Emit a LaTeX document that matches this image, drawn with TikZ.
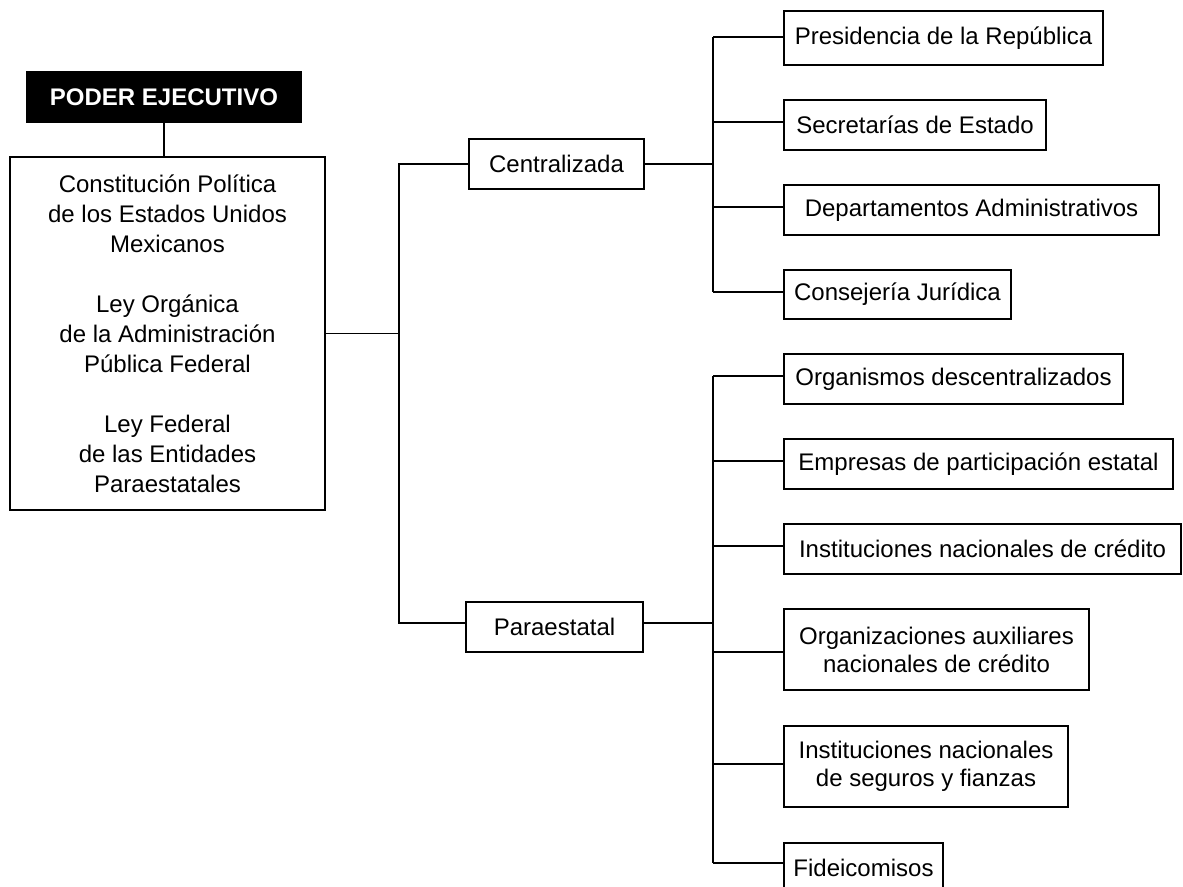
\documentclass[tikz,border=0pt]{standalone}
\usepackage{fontspec}
\setmainfont{Liberation Sans}
\begin{document}
\begin{tikzpicture}[x=1pt, y=-1pt, line width=1.6pt,
  box/.style={draw, rectangle, inner sep=0pt, align=center,
    font=\fontsize{24}{28}\selectfont},
  head/.style={box, fill=black, text=white,
    font=\fontsize{24}{28}\selectfont\bfseries},
  link/.style={draw, line width=1.6pt}
]
\useasboundingbox (0,0) rectangle (1183,886);

% header and legal framework
\node[head, minimum width=274pt, minimum height=50pt] (poder) at (164,97) {PODER EJECUTIVO};
\node[box, minimum width=315pt, minimum height=353pt,
      font=\fontsize{24}{30}\selectfont] (marco) at (167.5,333.5)
  {Constitución Política\\de los Estados Unidos\\Mexicanos\\[30pt]
   Ley Orgánica\\de la Administración\\Pública Federal\\[30pt]
   Ley Federal\\de las Entidades\\Paraestatales};

% the two branches
\node[box, minimum width=175pt, minimum height=50pt] (central) at (556.5,164) {Centralizada};
\node[box, minimum width=177pt, minimum height=50pt] (para) at (554.5,627) {Paraestatal};

% centralized administration
\node[box, minimum width=319pt, minimum height=54pt] (pres) at (943.5,38) {Presidencia de la República};
\node[box, minimum width=262pt, minimum height=50pt] (secr) at (915,125) {Secretarías de Estado};
\node[box, minimum width=375pt, minimum height=50pt] (dept) at (971.5,210) {Departamentos Administrativos};
\node[box, minimum width=227pt, minimum height=49pt] (cons) at (897.5,294.5) {Consejería Jurídica};

% parastatal administration
\node[box, minimum width=339pt, minimum height=50pt] (orgd) at (953.5,379) {Organismos descentralizados};
\node[box, minimum width=389pt, minimum height=50pt] (emp) at (978.5,464) {Empresas de participación estatal};
\node[box, minimum width=397pt, minimum height=50pt] (inst) at (982.5,549) {Instituciones nacionales de crédito};
\node[box, minimum width=305pt, minimum height=81pt] (orga) at (936.5,649.5) {Organizaciones auxiliares\\nacionales de crédito};
\node[box, minimum width=284pt, minimum height=81pt] (segu) at (926,766.5) {Instituciones nacionales\\de seguros y fianzas};
\node[box, minimum width=159pt, minimum height=50pt] (fide) at (863.5,868) {Fideicomisos};

% junction points
\coordinate (ta) at (399,164);
\coordinate (tb) at (399,623);
\coordinate (u1) at (713,37);
\coordinate (u2) at (713,122);
\coordinate (u3) at (713,207);
\coordinate (u4) at (713,292);
\coordinate (uc) at (713,164);
\coordinate (l1) at (713,376);
\coordinate (l2) at (713,461);
\coordinate (l3) at (713,546);
\coordinate (lp) at (713,623);
\coordinate (l4) at (713,652);
\coordinate (l5) at (713,764);
\coordinate (l6) at (713,863);

% connectors
\draw[link] (poder.south) -- (poder.south |- marco.north);
\draw[link] (marco.east) -- (marco.east -| ta);
\draw[link] (central.west |- ta) -- (ta) -- (tb) -- (tb -| para.west);

\draw[link] (central.east |- uc) -- (uc);
\draw[link] (u1) -- (u4);
\draw[link] (u1) -- (u1 -| pres.west);
\draw[link] (u2) -- (u2 -| secr.west);
\draw[link] (u3) -- (u3 -| dept.west);
\draw[link] (u4) -- (u4 -| cons.west);

\draw[link] (para.east |- lp) -- (lp);
\draw[link] (l1) -- (l6);
\draw[link] (l1) -- (l1 -| orgd.west);
\draw[link] (l2) -- (l2 -| emp.west);
\draw[link] (l3) -- (l3 -| inst.west);
\draw[link] (l4) -- (l4 -| orga.west);
\draw[link] (l5) -- (l5 -| segu.west);
\draw[link] (l6) -- (l6 -| fide.west);
\end{tikzpicture}
\end{document}
